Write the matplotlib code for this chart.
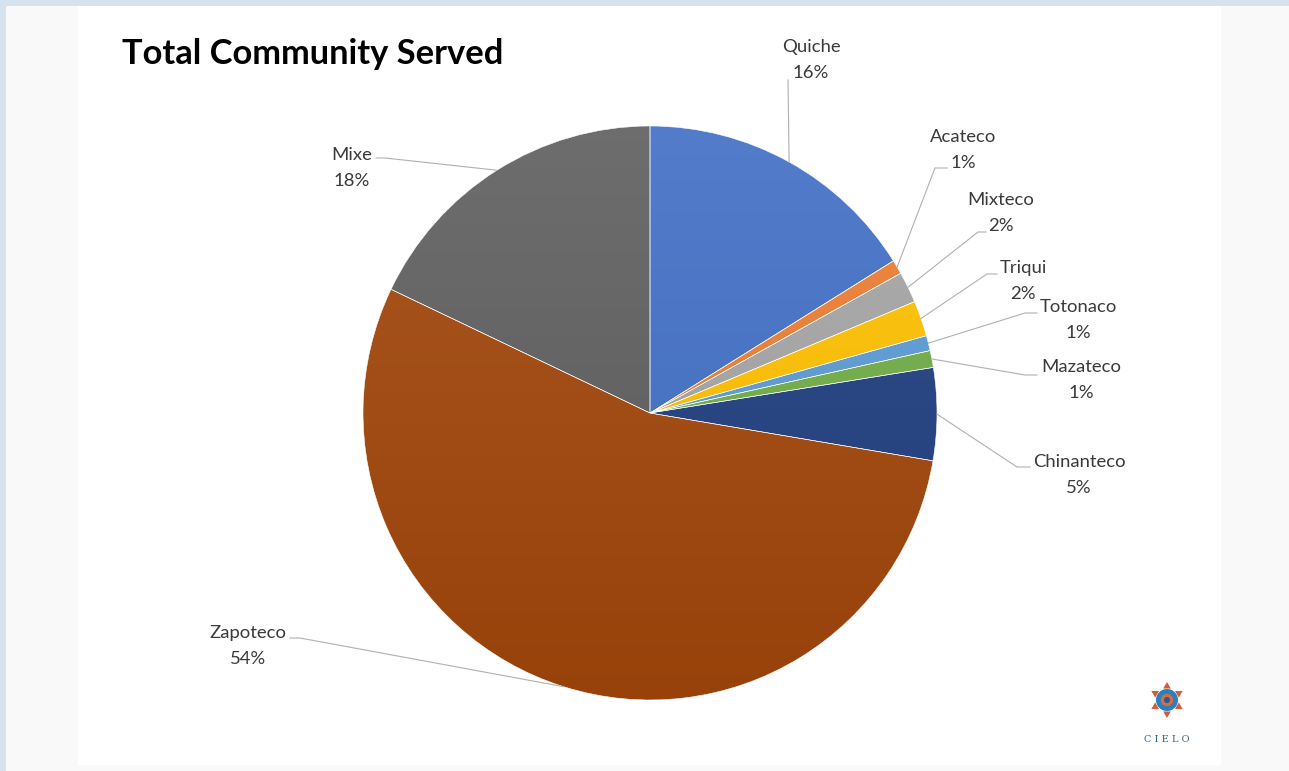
import numpy as np
import matplotlib.pyplot as plt
from matplotlib.patches import Rectangle, Circle, RegularPolygon
from matplotlib.colors import LinearSegmentedColormap, to_rgb

# =========================
# DATA
# =========================

groups = ["Quiche", "Acateco", "Mixteco", "Triqui", "Totonaco",
          "Mazateco", "Chinanteco", "Zapoteco", "Mixe"]
shares = [16.1, 0.8, 1.75, 2.0, 0.85, 0.95, 5.2, 54.4, 17.9]
colors = ["#4270c6", "#ed7d31", "#a5a5a5", "#ffc000", "#5b9bd5",
          "#70ad47", "#203f80", "#a2460b", "#5f5f5f"]

# =========================
# LAYOUT (pixels of the 1289x771 image)
# =========================

W, H = 1289, 771
CX, CY, R = 650, 413, 287

# label centre + leader path near the text
label_pos = {
    "Quiche": (811, 60, [(788, 80)]),
    "Acateco": (963, 150, [(935, 168), (947, 168)]),
    "Mixteco": (1001, 213, [(978, 232), (986, 232)]),
    "Triqui": (1023, 281, [(987, 274), (997, 274)]),
    "Totonaco": (1078, 320, [(1025, 313), (1037, 313)]),
    "Mazateco": (1081, 380, [(1025, 375), (1037, 375)]),
    "Chinanteco": (1079, 475, [(1017, 467), (1030, 467)]),
    "Zapoteco": (248, 646, [(300, 638), (290, 638)]),
    "Mixe": (352, 168, [(385, 158), (376, 158)]),
}

FONT = "Lato"


def fx(x):
    return x / W


def fy(y):
    return 1 - y / H


def dx(x):
    return (x - CX) / R


def dy(y):
    return (CY - y) / R


def mix(c, other, t):
    c = np.array(to_rgb(c))
    return tuple(c * (1 - t) + np.array(other) * t)


fig = plt.figure(figsize=(W / 100, H / 100), dpi=100, facecolor="#f9f9f9")

# frame bands and white slide panel (behind the axes)
for rect in [(0, fy(6), 1, 6 / H, "#d5e3ef"),
             (0, 0, 6 / W, 1, "#d5e3ef"),
             (fx(78), fy(765), (1221 - 78) / W, (765 - 6) / H, "white")]:
    fig.add_artist(Rectangle(rect[:2], rect[2], rect[3], transform=fig.transFigure,
                             color=rect[4], lw=0, zorder=-5))

fig.text(fx(122), fy(54), "Total Community Served", fontsize=24.8,
         fontweight="bold", family=FONT, color="black", va="center", ha="left")

# =========================
# PIE
# =========================

ax = fig.add_axes([fx(CX - R), fy(CY + R), 2 * R / W, 2 * R / H])
wedges, _ = ax.pie(shares, colors=colors, startangle=90, counterclock=False,
                   radius=1, wedgeprops=dict(edgecolor="white", linewidth=0.4))

grad = np.linspace(0, 1, 256).reshape(-1, 1)
for w, c in zip(wedges, colors):
    cmap = LinearSegmentedColormap.from_list(
        "g", [mix(c, (0, 0, 0), 0.06), mix(c, (1, 1, 1), 0.09)])
    im = ax.imshow(grad, extent=(-1, 1, -1, 1), origin="lower", cmap=cmap,
                   aspect="auto", zorder=0.5)
    im.set_clip_path(w)
    w.set_facecolor("none")

ax.set_xlim(-1, 1)
ax.set_ylim(-1, 1)
ax.set_aspect("equal")
ax.axis("off")

total = sum(shares)
for w, name, v in zip(wedges, groups, shares):
    tx, ty, path = label_pos[name]
    mid = np.deg2rad((w.theta1 + w.theta2) / 2)
    xs = [np.cos(mid)] + [dx(p[0]) for p in path]
    ys = [np.sin(mid)] + [dy(p[1]) for p in path]
    ax.plot(xs, ys, color="#b0b0b0", lw=0.8, clip_on=False, zorder=2)
    ax.text(dx(tx), dy(ty), f"{name}\n{v / total * 100:.0f}%", ha="center",
            va="center", fontsize=13.3, family=FONT, color="#3a3a3a",
            linespacing=1.75, clip_on=False, zorder=3)

# =========================
# LOGO
# =========================

lx, ly, ls = 1167, 700, 22
lax = fig.add_axes([fx(lx - ls), fy(ly + ls), 2 * ls / W, 2 * ls / H])
lax.set_xlim(-1, 1)
lax.set_ylim(-1, 1)
lax.set_aspect("equal")
lax.axis("off")
for k in range(6):
    a = np.deg2rad(90 + 60 * k)
    lax.add_patch(RegularPolygon((0.62 * np.cos(a), 0.62 * np.sin(a)), 3,
                                 radius=0.2, orientation=a - np.pi / 2,
                                 color="#cf5f3c", lw=0))
lax.add_patch(Circle((0, 0), 0.5, color="#2a7fc0", lw=0))
lax.add_patch(Circle((0, 0), 0.28, color="#e06a3a", lw=0))
lax.add_patch(Circle((0, 0), 0.14, color="#1f5f99", lw=0))
fig.text(fx(lx), fy(739), "C I E L O", ha="center", va="center", fontsize=7,
         family="DejaVu Serif", color="#3a5f8a")

fig.savefig("out.png", dpi=100, facecolor=fig.get_facecolor())
